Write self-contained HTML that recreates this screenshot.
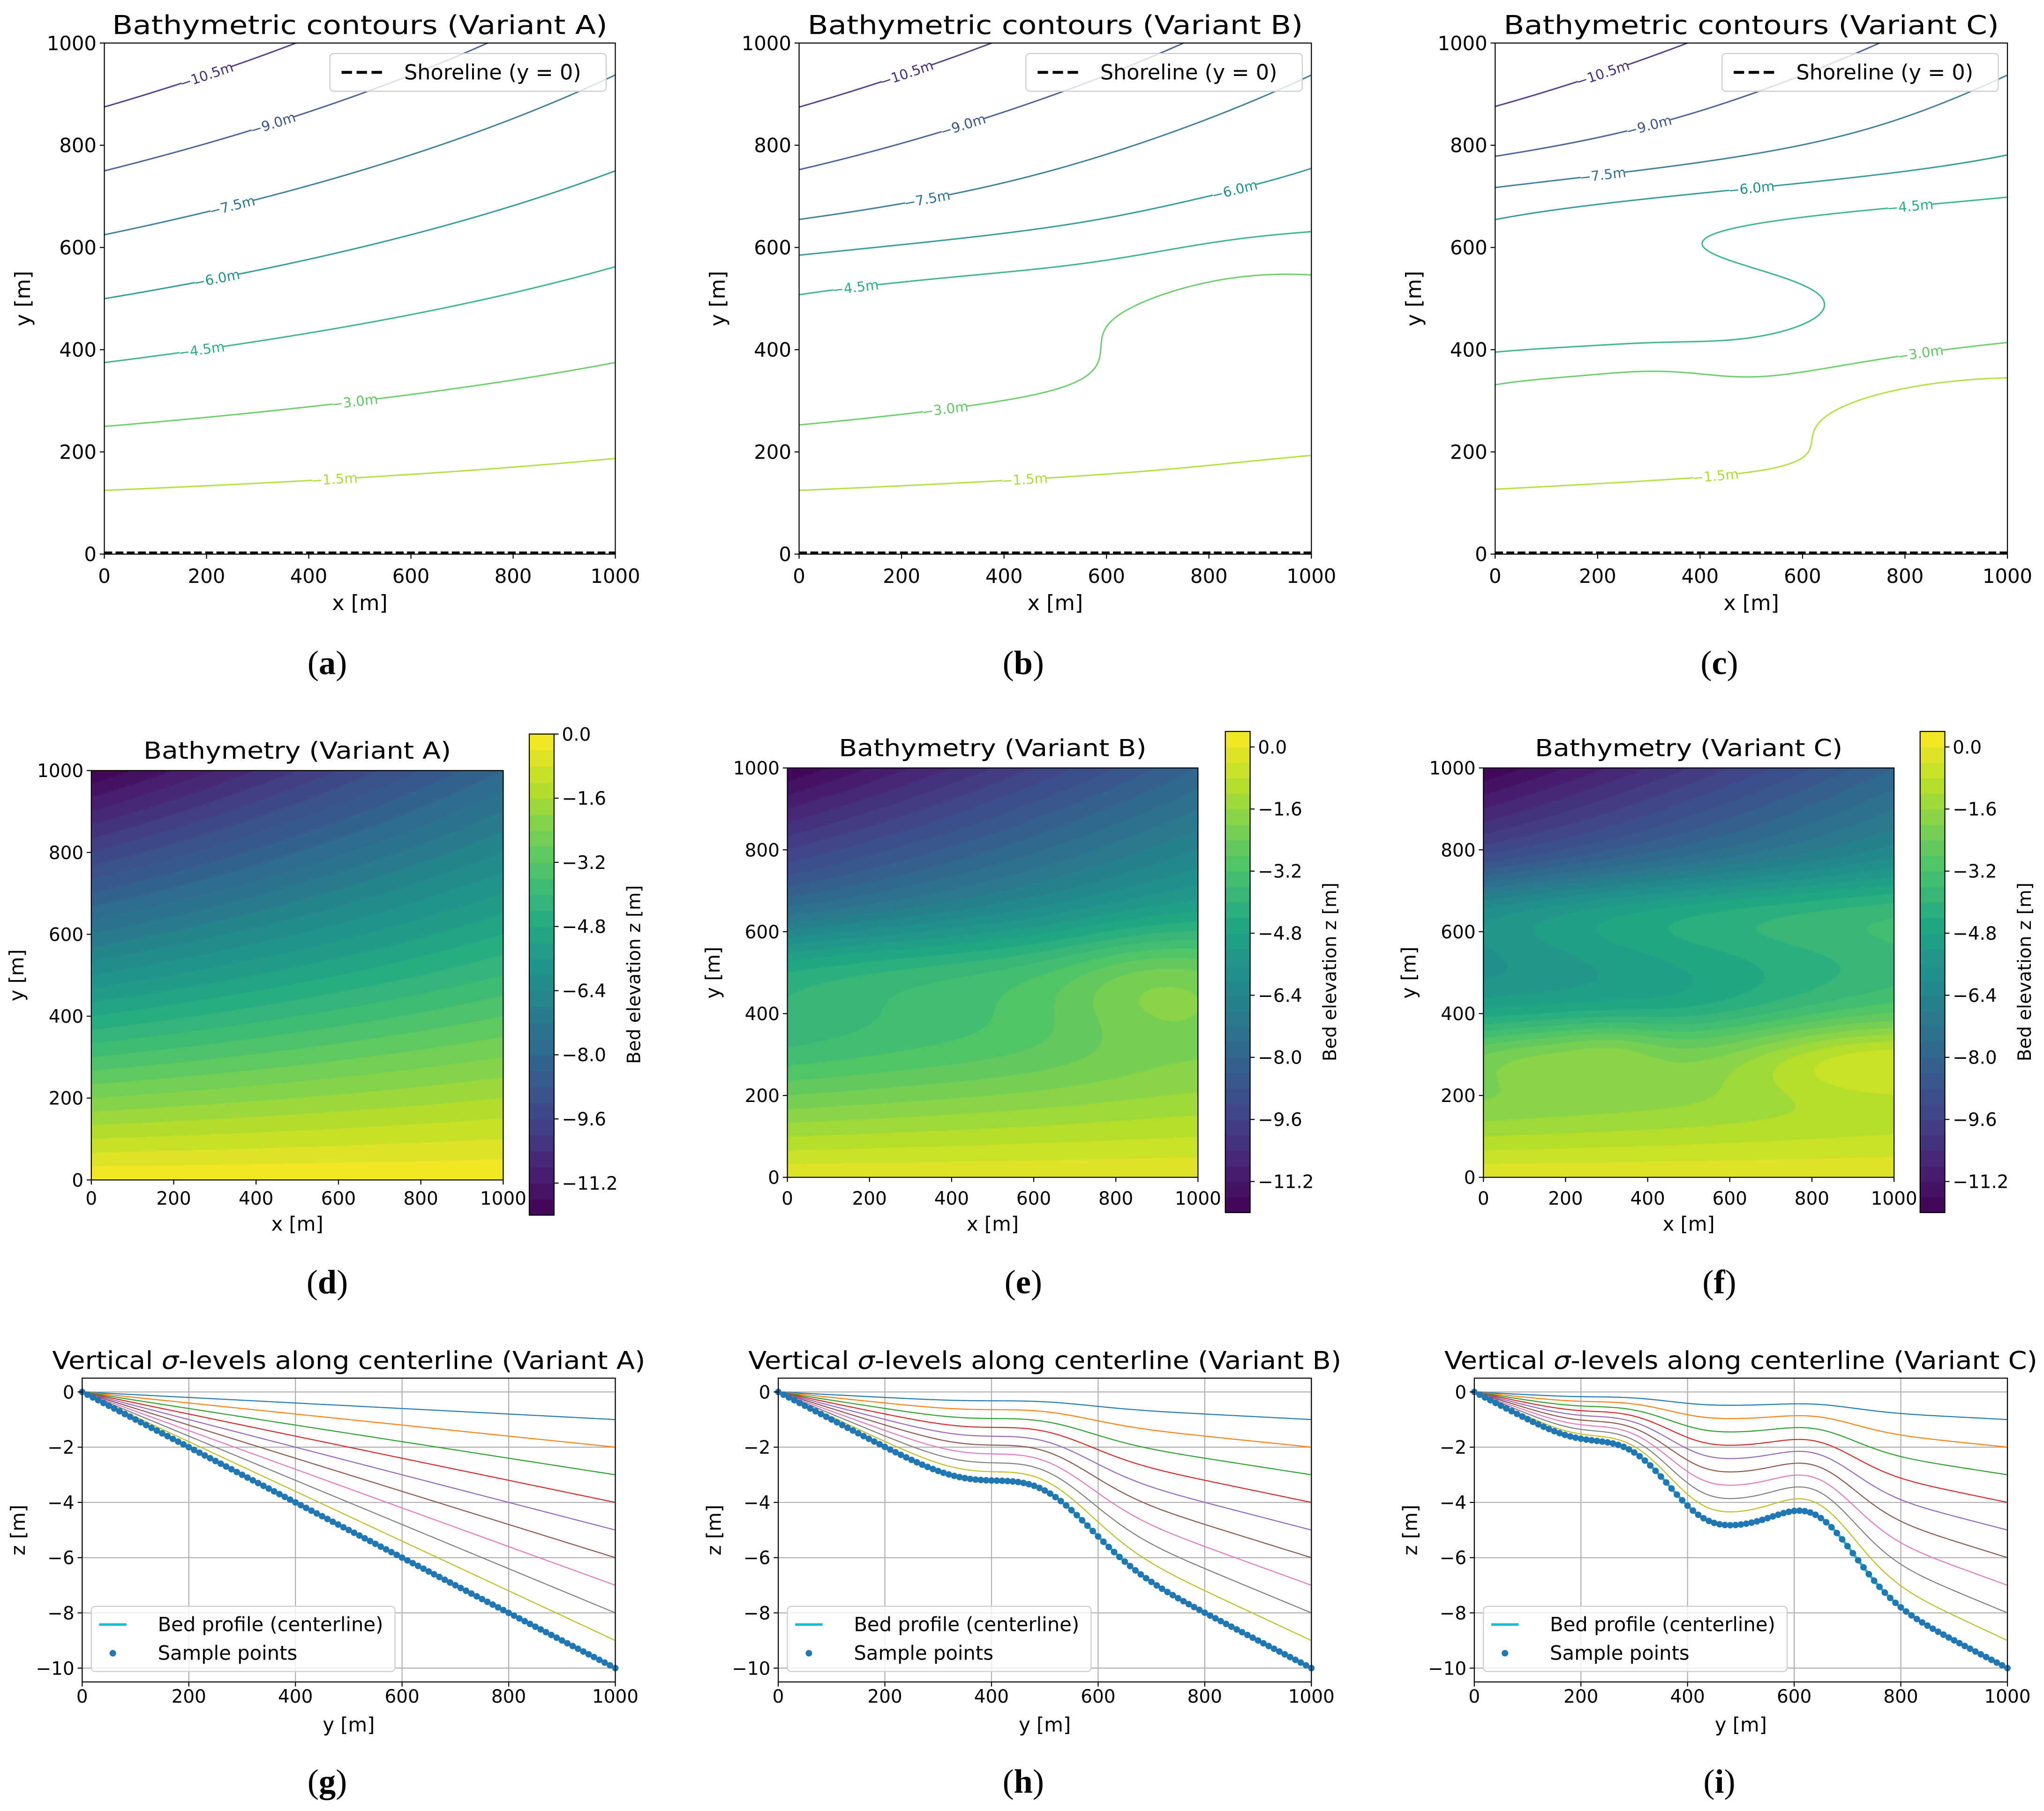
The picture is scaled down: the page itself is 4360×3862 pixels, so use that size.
<!DOCTYPE html>
<html><head><meta charset="utf-8">
<style>
html,body{margin:0;padding:0;background:#fff}
#root{position:relative;width:4360px;height:3862px;background:#fff;overflow:hidden}
canvas{position:absolute}
svg{position:absolute;left:0;top:0}
text{font-family:"DejaVu Sans","Liberation Sans",sans-serif}
</style></head>
<body>
<div id="root">
<svg id="svg" viewBox="0 0 1568 1389" width="4360" height="3862"></svg>
</div>
<script>
// ---------------- data ----------------
const baseSlope = [0.012, 0.008];           // depth slope at x=0 and x=1000 (m per m)
const variants = ['A','B','C'];
// bumps per variant: centre x, centre y, spread x, spread y, amplitude
const bumpCxA = [], bumpCyA = [], bumpSxA = [], bumpSyA = [], bumpAmpA = [];
const bumpCxB = [0, 900], bumpCyB = [500, 460], bumpSxB = [900, 170], bumpSyB = [90, 110], bumpAmpB = [1.6, 1.0];
const bumpCxC = [300, 500, 450, 950, 100, 320];
const bumpCyC = [640, 280, 430, 290, 300, 320];
const bumpSxC = [900, 3000, 250, 250, 180, 100];
const bumpSyC = [75, 60, 50, 70, 60, 55];
const bumpAmpC = [2.0, 0.35, -0.4, 1.5, 1.0, 0.6];
const contourLevels = [-10.5, -9, -7.5, -6, -4.5, -3, -1.5];
const labelXA = [200, 330, 250, 220, 190, 490, 450];
const labelXB = [210, 320, 250, 850, 110, 285, 440];
const labelXC = [210, 300, 210, 500, 810, 830, 430];
const axisTicks = [0, 200, 400, 600, 800, 1000];
const cbarTicks = [0.0, -1.6, -3.2, -4.8, -6.4, -8.0, -9.6, -11.2];
const cbarMin = [-12, -12, -12];
const cbarMax = [0.0, 0.4, 0.4];
const fillStep = 0.4;
const zTicks = [0, -2, -4, -6, -8, -10];
const sigmaFractions = [0.1, 0.2, 0.3, 0.4, 0.5, 0.6, 0.7, 0.8, 0.9];
const sigmaColors = ['#1f77b4','#ff7f0e','#2ca02c','#d62728','#9467bd','#8c564b','#e377c2','#7f7f7f','#bcbd22'];
const sampleSpacing = 10;
const centerlineX = 500;
const panelLetters = [['a','b','c'],['d','e','f'],['g','h','i']];

const bumps = {
  A:{cx:bumpCxA,cy:bumpCyA,sx:bumpSxA,sy:bumpSyA,a:bumpAmpA},
  B:{cx:bumpCxB,cy:bumpCyB,sx:bumpSxB,sy:bumpSyB,a:bumpAmpB},
  C:{cx:bumpCxC,cy:bumpCyC,sx:bumpSxC,sy:bumpSyC,a:bumpAmpC}};
const labelX = {A:labelXA,B:labelXB,C:labelXC};

// ---------------- layout (display units; viewBox 1568x1389) ----------------
const S = 4360/1568;
const colX = [[80,472],[613,1006],[1147,1540]];
const row1Y = [33,425];
const hmX = [[70,386],[604,919],[1138,1453]];
const hmY = [[591,905],[589,903],[589,903]];
const cbX = [406,940,1473];
const cbY = [[563,932],[561,930],[561,930]];
const prX = [[63,472],[597,1006],[1131,1540]];
const prY = [1057,1290];
const letterX = [251,785,1319];
const letterY = [517,992,1375];

const svg = document.getElementById('svg');
const root = document.getElementById('root');
const NS = 'http://www.w3.org/2000/svg';
function mk(tag, attrs, parent){
  const e = document.createElementNS(NS, tag);
  for (const k in attrs) e.setAttribute(k, attrs[k]);
  (parent||svg).appendChild(e);
  return e;
}
function grp(name, parent){
  const g = mk('g', {}, parent);
  
  
  return g;
}
function fmt(v){ return (v<0?'\u2212':'') + Math.abs(v); }
function fmt1(v){ return (v<-1e-9?'\u2212':'') + Math.abs(v).toFixed(1); }

const vir = ['#440154','#482475','#414487','#355f8d','#2a788e','#21918c','#22a884','#44bf70','#7ad151','#bddf26','#fde725'];
const virRGB = vir.map(h=>[parseInt(h.slice(1,3),16),parseInt(h.slice(3,5),16),parseInt(h.slice(5,7),16)]);
function viridis(t){
  t = Math.max(0, Math.min(1, t));
  const f = t*10, i = Math.min(9, Math.floor(f)), r = f - i;
  const a = virRGB[i], b = virRGB[i+1];
  return [a[0]+(b[0]-a[0])*r, a[1]+(b[1]-a[1])*r, a[2]+(b[2]-a[2])*r];
}
function rgbStr(c){ return 'rgb('+Math.round(c[0])+','+Math.round(c[1])+','+Math.round(c[2])+')'; }

function field(v, x, y){
  const s = baseSlope[0] + (baseSlope[1]-baseSlope[0])*x/1000;
  let z = -s*y;
  const b = bumps[v];
  for (let i=0;i<b.a.length;i++){
    const dx=(x-b.cx[i])/b.sx[i], dy=(y-b.cy[i])/b.sy[i];
    z += b.a[i]*Math.exp(-0.5*(dx*dx+dy*dy));
  }
  return z;
}
function levelColor(L){ return viridis((L+12)/12); }

function makeCanvas(x0,y0,x1,y1,name){
  const c = document.createElement('canvas');
  const L = Math.round(x0*S), T = Math.round(y0*S);
  const W = Math.round(x1*S)-L, H = Math.round(y1*S)-T;
  c.width = W; c.height = H;
  c.style.left = L+'px'; c.style.top = T+'px';
  c.style.width = W+'px'; c.style.height = H+'px';
  
  
  root.insertBefore(c, svg);
  return c;
}

function axesFrame(g,x0,y0,x1,y1,name){
  const r = mk('rect',{x:x0,y:y0,width:x1-x0,height:y1-y0,fill:'none',stroke:'#000','stroke-width':0.8},g);
  
  
}

function xTicks(g,x0,x1,yb,fs,labY,ticks,lo,hi){
  ticks.forEach(t=>{
    const px = x0 + (t-lo)/(hi-lo)*(x1-x0);
    mk('line',{x1:px,y1:yb,x2:px,y2:yb+3.5,stroke:'#000','stroke-width':0.8},g);
    const tx = mk('text',{x:px,y:labY,'font-size':fs,'text-anchor':'middle',fill:'#000'},g);
    tx.textContent = String(t);
    
    
  });
}
function yTicks(g,y0,y1,xl,fs,ticks,lo,hi,fmtf){
  ticks.forEach(t=>{
    const py = y1 - (t-lo)/(hi-lo)*(y1-y0);
    mk('line',{x1:xl,y1:py,x2:xl-3.5,y2:py,stroke:'#000','stroke-width':0.8},g);
    const tx = mk('text',{x:xl-6,y:py+fs*0.36,'font-size':fs,'text-anchor':'end',fill:'#000'},g);
    tx.textContent = fmtf ? fmtf(t) : fmt(t);
    
    
  });
}
function label(g,x,y,txt,fs,name,rot,len){
  const a = {x:x,y:y,'font-size':fs,'text-anchor':'middle',fill:'#000'};
  if (rot) a.transform = 'rotate(-90 '+x+' '+y+')';
  if (len){ a.textLength = len; a.lengthAdjust='spacingAndGlyphs'; }
  const t = mk('text',a,g);
  t.textContent = txt;
  
  
  return t;
}
function panelLetter(g,x,y,l){
  const t = mk('text',{x:x,y:y,'font-size':26,'text-anchor':'middle',fill:'#000',style:'font-family:"Liberation Serif",serif'},g);
  
  
  const s1 = mk('tspan',{},t); s1.textContent='(';
  const s2 = mk('tspan',{'font-weight':'bold'},t); s2.textContent=l;
  const s3 = mk('tspan',{},t); s3.textContent=')';
}

// ---------------- row 1: contours ----------------
variants.forEach((v,ci)=>{
  const [x0,x1] = colX[ci], [y0,y1] = row1Y;
  const g = grp('contour-panel-'+v);
  const cv = makeCanvas(x0,y0,x1,y1,'contour-lines-'+v);
  const ctx = cv.getContext('2d'), W=cv.width, H=cv.height;
  const img = ctx.createImageData(W,H), d = img.data;
  const dpp = 1000/W, hw = 1.3, h = 0.5;
  const cols = contourLevels.map(levelColor);
  for (let j=0;j<H;j++){
    const Y = 1000-(j+0.5)*1000/H;
    for (let i=0;i<W;i++){
      const X = (i+0.5)*dpp;
      const z = field(v,X,Y);
      const gx = (field(v,X+h,Y)-field(v,X-h,Y))/(2*h);
      const gy = (field(v,X,Y+h)-field(v,X,Y-h))/(2*h);
      const gp = Math.sqrt(gx*gx+gy*gy)*dpp + 1e-9;
      for (let k=0;k<contourLevels.length;k++){
        const dist = Math.abs(z-contourLevels[k])/gp;
        if (dist < hw+0.6){
          const a = Math.max(0,Math.min(1,hw+0.6-dist));
          const p=(j*W+i)*4, c=cols[k];
          d[p]=c[0]; d[p+1]=c[1]; d[p+2]=c[2]; d[p+3]=Math.max(d[p+3],a*255);
        }
      }
    }
  }
  ctx.putImageData(img,0,0);
  // labels
  const px = X=>x0+X/1000*(x1-x0), py = Y=>y1-Y/1000*(y1-y0);
  contourLevels.forEach((L,k)=>{
    const X = labelX[v][k];
    let Yf=null, prev=field(v,X,1000)-L;
    for (let Y=998;Y>=0;Y-=2){
      const cur = field(v,X,Y)-L;
      if ((cur>0)!==(prev>0)){ let a=Y,b=Y+2; for(let it=0;it<30;it++){const m=(a+b)/2; if((field(v,X,m)-L>0)===(cur>0)) a=m; else b=m;} Yf=(a+b)/2; break; }
      prev=cur;
    }
    if (Yf===null) return;
    const hh=0.5, gx=(field(v,X+hh,Yf)-field(v,X-hh,Yf)), gy=(field(v,X,Yf+hh)-field(v,X,Yf-hh));
    let ang = Math.atan2(gx, gy)*180/Math.PI;
    if (ang>90) ang-=180; if (ang<-90) ang+=180;
    const sx=px(X), sy=py(Yf);
    const txt = fmt1(L)+'m';
    const lg = mk('g',{transform:'translate('+sx+' '+sy+') rotate('+ang+')'},g);
    
    
    const wlen = txt.length*6+4;
    mk('rect',{x:-wlen/2,y:-4.5,width:wlen,height:9,fill:'#fff'},lg);
    const t = mk('text',{x:0,y:3.8,'font-size':10.5,'text-anchor':'middle',fill:rgbStr(levelColor(L))},lg);
    t.textContent = txt;
  });
  // shoreline
  const sl = mk('line',{x1:x0,y1:y1-1.2,x2:x1,y2:y1-1.2,stroke:'#000','stroke-width':1.6,'stroke-dasharray':'6,2.6'},g);
  
  
  axesFrame(g,x0,y0,x1,y1,'contour-axes-frame');
  xTicks(g,x0,x1,y1,15,447,axisTicks,0,1000);
  yTicks(g,y0,y1,x0,15,axisTicks,0,1000,t=>String(t));
  label(g,(x0+x1)/2,468,'x [m]',16,'x-axis-title');
  label(g,x0-57,(y0+y1)/2,'y [m]',16,'y-axis-title',true);
  label(g,(x0+x1)/2,26,'Bathymetric contours (Variant '+v+')',20,'chart-title',false,380);
  // legend
  const lgd = grp('legend', g);
  const lx0 = x1-219, ly0 = y0+8;
  mk('rect',{x:lx0,y:ly0,width:212,height:29,rx:3,fill:'#fff','fill-opacity':0.8,stroke:'#ccc','stroke-width':0.8},lgd);
  mk('line',{x1:lx0+9,y1:ly0+14.5,x2:lx0+42,y2:ly0+14.5,stroke:'#000','stroke-width':2.2,'stroke-dasharray':'8,3.5'},lgd);
  const lt = mk('text',{x:lx0+57,y:ly0+20,'font-size':16,fill:'#000'},lgd);
  lt.textContent = 'Shoreline (y = 0)';
  
  
  panelLetter(g,letterX[ci],letterY[0],panelLetters[0][ci]);
});

// ---------------- row 2: filled bathymetry ----------------
variants.forEach((v,ci)=>{
  const [x0,x1] = hmX[ci], [y0,y1] = hmY[ci];
  const vmin = cbarMin[ci], vmax = cbarMax[ci];
  const g = grp('bathymetry-panel-'+v);
  const cv = makeCanvas(x0,y0,x1,y1,'bathymetry-heatmap-'+v);
  const ctx = cv.getContext('2d'), W=cv.width, H=cv.height;
  const img = ctx.createImageData(W,H), d = img.data;
  const nb = Math.round((vmax-vmin)/fillStep);
  const bandCols = [];
  for (let k=0;k<nb;k++) bandCols.push(viridis((k+0.5)/nb));
  for (let j=0;j<H;j++){
    const Y = 1000-(j+0.5)*1000/H;
    for (let i=0;i<W;i++){
      const X = (i+0.5)*1000/W;
      let k = Math.floor((field(v,X,Y)-vmin)/fillStep);
      k = Math.max(0,Math.min(nb-1,k));
      const p=(j*W+i)*4, c=bandCols[k];
      d[p]=c[0]; d[p+1]=c[1]; d[p+2]=c[2]; d[p+3]=255;
    }
  }
  ctx.putImageData(img,0,0);
  axesFrame(g,x0,y0,x1,y1,'heatmap-axes-frame');
  xTicks(g,x0,x1,y1,14,924,axisTicks,0,1000);
  yTicks(g,y0,y1,x0,14,axisTicks,0,1000,t=>String(t));
  label(g,(x0+x1)/2,944,'x [m]',15,'x-axis-title');
  label(g,x0-52,(y0+y1)/2,'y [m]',15,'y-axis-title',true);
  label(g,(x0+x1)/2,y0-9,'Bathymetry (Variant '+v+')',18,'chart-title',false,236);
  // colorbar
  const cg = grp('colorbar-'+v, g);
  const cx0 = cbX[ci], cx1 = cx0+19, [cy0,cy1] = cbY[ci];
  const cpy = z=>cy1-(z-vmin)/(vmax-vmin)*(cy1-cy0);
  for (let k=0;k<nb;k++){
    const za = vmin+k*fillStep, zb = za+fillStep;
    const r = mk('rect',{x:cx0,y:cpy(zb),width:19,height:cpy(za)-cpy(zb)+0.3,fill:rgbStr(bandCols[k])},cg);
    
    
  }
  mk('rect',{x:cx0,y:cy0,width:19,height:cy1-cy0,fill:'none',stroke:'#000','stroke-width':0.8},cg);
  cbarTicks.forEach(t=>{
    const py = cpy(t);
    mk('line',{x1:cx1,y1:py,x2:cx1+3.5,y2:py,stroke:'#000','stroke-width':0.8},cg);
    const tx = mk('text',{x:cx1+6,y:py+5,'font-size':14,fill:'#000'},cg);
    tx.textContent = fmt1(t);
    
    
  });
  label(cg,cx0+85,(cy0+cy1)/2,'Bed elevation z [m]',14,'colorbar-title',true);
  panelLetter(g,letterX[ci],letterY[1],panelLetters[1][ci]);
});

// ---------------- row 3: sigma levels ----------------
variants.forEach((v,ci)=>{
  const [x0,x1] = prX[ci], [y0,y1] = prY;
  const g = grp('sigma-panel-'+v);
  const ys = []; for (let y=0;y<=1000;y+=sampleSpacing) ys.push(y);
  const bed = ys.map(y=>field(v,centerlineX,y));
  const zmin = Math.min(...bed), span = 0 - zmin;
  const lo = zmin - 0.05*span, hi = 0.05*span;
  const px = y=>x0+y/1000*(x1-x0), pz = z=>y1-(z-lo)/(hi-lo)*(y1-y0);
  const gg = grp('grid', g);
  axisTicks.forEach(t=>mk('line',{x1:px(t),y1:y0,x2:px(t),y2:y1,stroke:'#b0b0b0','stroke-width':0.8},gg));
  zTicks.forEach(t=>mk('line',{x1:x0,y1:pz(t),x2:x1,y2:pz(t),stroke:'#b0b0b0','stroke-width':0.8},gg));
  const fine = []; for (let y=0;y<=1000;y+=5) fine.push(y);
  const fineBed = fine.map(y=>field(v,centerlineX,y));
  sigmaFractions.forEach((f,k)=>{
    const pts = fine.map((y,i)=>px(y).toFixed(2)+','+pz(f*fineBed[i]).toFixed(2)).join(' ');
    const pl = mk('polyline',{points:pts,fill:'none',stroke:sigmaColors[k],'stroke-width':0.8},g);
    
    
  });
  const bp = mk('polyline',{points:fine.map((y,i)=>px(y).toFixed(2)+','+pz(fineBed[i]).toFixed(2)).join(' '),fill:'none',stroke:'#17becf','stroke-width':2},g);
  
  
  const dg = grp('sample-points', g);
  ys.forEach((y,i)=>{
    const c = mk('circle',{cx:px(y),cy:pz(bed[i]),r:2.5,fill:'#1f77b4'},dg);
    
    
  });
  axesFrame(g,x0,y0,x1,y1,'profile-axes-frame');
  xTicks(g,x0,x1,y1,14,1306,axisTicks,0,1000);
  yTicks(g,y0,y1,x0,14,zTicks,lo,hi);
  label(g,(x0+x1)/2,1328,'y [m]',15,'x-axis-title');
  label(g,x0-44,(y0+y1)/2,'z [m]',15,'y-axis-title',true);
  const tt = label(g,(x0+x1)/2,1050,'',19,'chart-title',false,455);
  const a1 = mk('tspan',{},tt); a1.textContent='Vertical ';
  const a2 = mk('tspan',{'font-style':'italic'},tt); a2.textContent='\u03c3';
  const a3 = mk('tspan',{},tt); a3.textContent='-levels along centerline (Variant '+v+')';
  const lgd = grp('legend', g);
  mk('rect',{x:x0+7,y:1232,width:233,height:50,rx:3,fill:'#fff','fill-opacity':0.8,stroke:'#ccc','stroke-width':0.8},lgd);
  mk('line',{x1:x0+13,y1:1246,x2:x0+34,y2:1246,stroke:'#17becf','stroke-width':2},lgd);
  mk('circle',{cx:x0+23.5,cy:1268,r:2.5,fill:'#1f77b4'},lgd);
  const l1 = mk('text',{x:x0+58,y:1251,'font-size':15,fill:'#000'},lgd); l1.textContent='Bed profile (centerline)';
  
  
  const l2 = mk('text',{x:x0+58,y:1273,'font-size':15,fill:'#000'},lgd); l2.textContent='Sample points';
  
  
  panelLetter(g,letterX[ci],letterY[2],panelLetters[2][ci]);
});
</script>
</body></html>
